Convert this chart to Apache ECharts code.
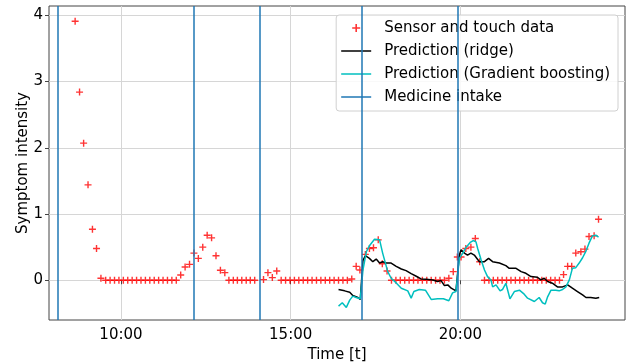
<!DOCTYPE html>
<html>
<head>
<meta charset="utf-8">
<script src="https://cdn.jsdelivr.net/npm/echarts@6/dist/echarts.min.js"></script>
<style>html,body{margin:0;padding:0;background:#fff;}#c{width:635px;height:364px;}</style>
</head>
<body>
<div id="c"></div>
<script>
// Time in hours of day
const sensorTimes = [8.65,8.78,8.90,9.03,9.16,9.28,9.41,9.55,9.68,9.81,9.94,10.07,10.20,10.33,10.46,10.59,10.72,10.85,10.98,11.11,11.24,11.37,11.50,11.63,11.76,11.89,12.02,12.15,12.28,12.41,12.54,12.67,12.80,12.93,13.06,13.18,13.31,13.43,13.56,13.69,13.81,13.94,14.20,14.33,14.46,14.59,14.72,14.85,14.98,15.11,15.24,15.37,15.50,15.63,15.76,15.89,16.02,16.15,16.28,16.41,16.54,16.67,16.80,16.93,17.04,17.20,17.32,17.44,17.58,17.70,17.84,17.97,18.10,18.23,18.36,18.49,18.62,18.75,18.88,19.01,19.14,19.27,19.40,19.53,19.66,19.79,19.91,20.02,20.16,20.31,20.44,20.57,20.71,20.84,20.97,21.10,21.23,21.36,21.49,21.62,21.75,21.88,22.01,22.14,22.27,22.40,22.53,22.66,22.79,22.92,23.04,23.16,23.28,23.40,23.55,23.67,23.79,23.94,24.07];
const sensorValues = [3.91,2.84,2.07,1.44,0.77,0.48,0.03,0,0,0,0,0,0,0,0,0,0,0,0,0,0,0,0,0,0.08,0.20,0.24,0.41,0.33,0.50,0.68,0.64,0.37,0.15,0.115,0,0,0,0,0,0,0,0.01,0.115,0.04,0.14,0,0,0,0,0,0,0,0,0,0,0,0,0,0,0,0,0.02,0.21,0.155,0.39,0.48,0.49,0.61,0.25,0.14,0,0,0,0,0,0,0,0,0,0,0,0,0,0.03,0.13,0.35,0.35,0.48,0.50,0.63,0.28,0,0,0,0,0,0,0,0,0,0,0,0,0,0,0,0,0,0,0.085,0.21,0.21,0.41,0.43,0.47,0.66,0.67,0.92];

const ridgeTimes = [16.41,16.59,16.74,16.83,16.98,17.05,17.13,17.20,17.23,17.32,17.42,17.52,17.62,17.71,17.81,17.96,18.11,18.26,18.40,18.55,18.70,18.84,18.99,19.19,19.33,19.43,19.53,19.63,19.73,19.87,19.97,20.02,20.12,20.21,20.31,20.41,20.56,20.71,20.83,20.95,21.15,21.34,21.44,21.64,21.79,21.93,22.08,22.27,22.37,22.47,22.57,22.71,22.86,23.01,23.16,23.30,23.45,23.60,23.70,23.84,23.99,24.09];
const ridgeValues = [-0.14,-0.16,-0.18,-0.23,-0.26,-0.29,0.30,0.37,0.36,0.33,0.28,0.32,0.26,0.28,0.26,0.26,0.21,0.17,0.145,0.10,0.06,0.02,0.015,0.005,-0.02,-0.005,-0.08,-0.07,-0.12,-0.16,0.38,0.46,0.41,0.38,0.41,0.38,0.28,0.28,0.33,0.28,0.26,0.22,0.18,0.18,0.13,0.105,0.055,0.045,0.005,0.03,-0.02,-0.045,-0.10,-0.10,-0.07,-0.12,-0.17,-0.22,-0.26,-0.26,-0.27,-0.26];

const gbTimes = [16.41,16.52,16.64,16.74,16.83,16.93,17.05,17.13,17.23,17.32,17.47,17.62,17.71,17.86,17.96,18.11,18.26,18.45,18.55,18.63,18.79,18.97,19.14,19.33,19.50,19.66,19.77,19.87,19.97,20.07,20.17,20.29,20.38,20.46,20.51,20.61,20.71,20.80,20.90,20.95,21.05,21.17,21.24,21.34,21.46,21.59,21.74,21.88,21.98,22.18,22.32,22.42,22.50,22.57,22.67,22.81,22.91,23.01,23.11,23.21,23.30,23.40,23.50,23.60,23.70,23.79,23.89,23.99,24.07];
const gbValues = [-0.39,-0.34,-0.41,-0.30,-0.24,-0.26,-0.28,0.155,0.43,0.52,0.62,0.61,0.41,0.13,0.03,-0.04,-0.12,-0.16,-0.27,-0.17,-0.14,-0.15,-0.29,-0.28,-0.28,-0.31,-0.19,-0.17,0.33,0.41,0.50,0.57,0.60,0.58,0.48,0.31,0.155,0.055,0.005,-0.10,-0.07,-0.16,-0.14,-0.045,-0.28,-0.17,-0.15,-0.21,-0.27,-0.32,-0.26,-0.34,-0.36,-0.25,-0.15,-0.15,-0.16,-0.14,-0.10,0.005,0.18,0.19,0.26,0.34,0.44,0.56,0.67,0.68,0.65];

const medicineTimes = [8.14, 12.15, 14.09, 17.08, 19.92];

const xTicks = [10, 15, 20];
const yTicks = [0, 1, 2, 3, 4];

const zip = (a, b) => a.map((t, i) => [t, b[i]]);
const FONT = 'DejaVu Sans';
const plusPath = 'path://M4,0h2v4h4v2h-4v4h-2v-4h-4v-2h4z';
const lineIcon = 'path://M0,0h30v1.5h-30z';

const chart = echarts.init(document.getElementById('c'), null, {renderer: 'canvas'});
chart.setOption({
  animation: false,
  backgroundColor: '#fff',
  textStyle: {fontFamily: FONT},
  grid: {left: 49, top: 6, right: 10, bottom: 44, show: true, borderColor: '#444', borderWidth: 1, backgroundColor: 'transparent', containLabel: false, outerBoundsMode: 'none'},
  xAxis: {
    type: 'value', min: 7.88, max: 24.85,
    name: 'Time [t]', nameLocation: 'middle', nameGap: 28, nameMoveOverlap: false,
    nameTextStyle: {fontFamily: FONT, fontSize: 15, color: '#000'},
    axisLine: {show: false},
    axisTick: {show: true, length: 4, lineStyle: {color: '#444'}, customValues: xTicks},
    axisLabel: {fontFamily: FONT, fontSize: 15, color: '#000', margin: 8, customValues: xTicks, formatter: v => v + ':00'},
    splitLine: {show: true, lineStyle: {color: '#d6d6d6', width: 1}}
  },
  yAxis: {
    type: 'value', min: -0.6, max: 4.14,
    name: 'Symptom intensity', nameLocation: 'middle', nameGap: 18, nameMoveOverlap: false,
    nameTextStyle: {fontFamily: FONT, fontSize: 15, color: '#000'},
    axisLine: {show: false},
    axisTick: {show: true, length: 4, lineStyle: {color: '#444'}, customValues: yTicks},
    axisLabel: {fontFamily: FONT, fontSize: 15, color: '#000', margin: 6, customValues: yTicks},
    splitLine: {show: true, lineStyle: {color: '#d6d6d6', width: 1}}
  },
  legend: {
    orient: 'vertical', right: 17, top: 15,
    backgroundColor: 'rgba(255,255,255,0.85)', borderColor: '#d0d0d0', borderWidth: 1, borderRadius: 3,
    padding: [5, 8, 6, 5],
    itemWidth: 30, itemHeight: 8, itemGap: 7,
    textStyle: {fontFamily: FONT, fontSize: 15, color: '#000', lineHeight: 16, padding: [0, 0, 0, 8]},
    data: [
      {name: 'Sensor and touch data', icon: plusPath, itemStyle: {color: '#ff0000'}},
      {name: 'Prediction (ridge)', icon: lineIcon, itemStyle: {color: '#000000'}},
      {name: 'Prediction (Gradient boosting)', icon: lineIcon, itemStyle: {color: '#00bfbf'}},
      {name: 'Medicine intake', icon: lineIcon, itemStyle: {color: '#1f77b4'}}
    ]
  },
  series: [
    {
      name: 'Sensor and touch data', type: 'scatter', z: 2,
      symbol: plusPath, symbolSize: 7,
      itemStyle: {color: '#ff0000'},
      data: zip(sensorTimes, sensorValues)
    },
    {
      name: 'Prediction (ridge)', type: 'line', z: 3, symbol: 'none',
      lineStyle: {color: '#000000', width: 1.5}, itemStyle: {color: '#000000'},
      data: zip(ridgeTimes, ridgeValues)
    },
    {
      name: 'Prediction (Gradient boosting)', type: 'line', z: 3, symbol: 'none',
      lineStyle: {color: '#00bfbf', width: 1.5}, itemStyle: {color: '#00bfbf'},
      data: zip(gbTimes, gbValues)
    },
    {
      name: 'Medicine intake', type: 'line', z: 4, symbol: 'none',
      lineStyle: {color: '#1f77b4', width: 1.5}, itemStyle: {color: '#1f77b4'},
      data: [],
      markLine: {
        silent: true, symbol: 'none', label: {show: false},
        lineStyle: {color: '#1f77b4', width: 1.5, type: 'solid'},
        data: medicineTimes.map(t => ({xAxis: t}))
      }
    }
  ]
});
</script>
</body>
</html>
